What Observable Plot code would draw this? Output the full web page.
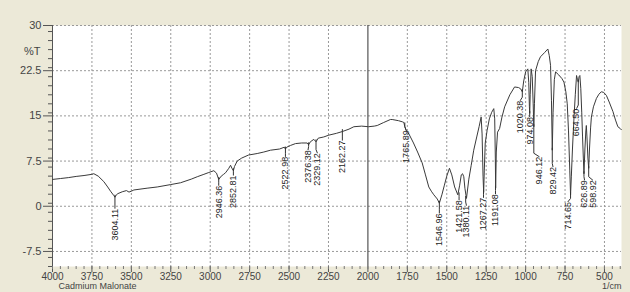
<!DOCTYPE html>
<html><head><meta charset="utf-8">
<script src="https://cdn.jsdelivr.net/npm/d3@7"></script>
<script src="https://cdn.jsdelivr.net/npm/@observablehq/plot@0.6"></script>
<style>
html,body{margin:0;padding:0;background:#ECE9D8;}
#chart{width:630px;height:292px;overflow:hidden;}
</style></head><body><div id="chart"></div>
<script>
// IR spectrum (wavenumber in 1/cm, %T)
const wavenumber = [4000,3950,3900,3850,3800,3750,3738,3710,3675,3650,3632,3612,3604,3595,3585,3558,3531,3515,3500,3484,3400,3336,3250,3188,3120,3082,3040,3009,2977,2960,2946,2930,2915,2903,2882,2871,2862,2853,2846,2829,2800,2757,2702,2660,2618,2560,2530,2523,2515,2490,2459,2420,2385,2376,2365,2343,2329,2315,2280,2248,2200,2162,2120,2089,2040,1996,1960,1941,1900,1857,1846,1806,1780,1772,1766,1755,1740,1711,1685,1656,1635,1614,1598,1582,1560,1547,1530,1515,1500,1483,1468,1450,1430,1418,1408,1400,1392,1385,1375,1360,1345,1329,1310,1295,1282,1276,1270,1266,1262,1256,1244,1230,1215,1202,1196,1192,1190,1186,1178,1165,1150,1133,1100,1070,1045,1032,1021,1012,1000,986,980,976,974,971,965,958,952,948,944,937,920,906,880,859,850,842,836,831,826,818,810,790,770,757,745,736,728,720,715,710,703,694,685,677,671,666,661,656,650,644,639,634,630,624,618,615,611,605,600,595,588,583,570,551,535,520,505,488,470,446,430,415,400,393];
const transmittance = [4.45,4.6,4.75,4.95,5.1,5.3,5.4,5.0,4.1,3.2,2.5,1.8,1.5,1.9,2.1,2.4,2.6,2.35,2.5,2.7,3.0,3.2,3.6,3.9,4.5,4.9,5.3,5.6,5.9,5.5,4.45,5.0,5.3,5.55,6.3,6.8,6.3,5.9,6.6,7.5,8.0,8.5,8.75,9.0,9.3,9.5,9.8,9.5,9.8,10.1,10.4,10.5,10.5,10.2,10.7,11.1,10.7,11.3,11.5,11.8,12.1,12.4,12.8,13.2,13.3,13.2,13.3,13.4,13.9,14.4,14.4,14.2,14.0,13.9,13.2,12.5,12.0,10.5,9.0,7.2,5.2,3.2,2.5,1.9,1.2,0.5,2.0,3.5,5.0,6.3,5.2,3.2,1.9,3.5,5.2,5.4,4.9,3.0,1.3,4.5,6.8,9.3,11.5,13.2,14.8,12.0,5.0,2.3,6.0,10.5,12.6,14.5,15.6,16.2,14.5,8.0,3.0,9.0,12.3,12.9,14.8,16.5,18.5,19.8,19.7,19.5,19.0,20.8,22.3,22.8,20.5,16.5,15.4,18.5,22.8,21.5,17.0,13.2,17.0,22.5,24.0,24.8,25.5,26.1,25.0,23.4,17.5,9.3,15.5,21.0,22.3,21.8,21.2,20.6,19.0,17.0,12.5,6.0,1.9,5.0,9.5,14.3,18.5,21.7,21.0,20.6,21.5,21.7,19.5,15.5,11.5,8.0,5.4,9.5,12.5,13.4,11.5,8.0,6.3,9.5,13.0,14.8,16.5,17.9,18.6,19.0,18.9,18.4,17.3,15.7,14.3,13.2,12.9,12.7];

// Peak annotations
const peakLabels = ["3604.11","2946.36","2852.81","2522.98","2376.38","2329.12","2162.27","1765.89","1546.96","1421.58","1380.11","1267.27","1191.08","1020.38","974.08","946.12","829.42","714.65","664.50","626.89","598.92"];
const peakWn = [3604,2946,2853,2523,2376,2329,2162,1766,1547,1422,1380,1267,1191,1021,974,948,831,715,666,630,600];
const peakT = [1.5,4.45,5.9,9.5,10.2,10.7,12.4,13.5,0.5,1.9,1.3,2.3,3.0,19.0,15.4,13.2,9.3,1.9,20.6,5.4,6.3];
const labelWn = [3604,2946,2853,2523,2380,2320,2162,1758,1547,1422,1375,1267,1191,1035,974,912,826,733,677,626,573];
const labelT = [-0.4,3.4,5.1,8.2,9.3,8.8,10.9,12.6,-1.2,1.0,0.1,1.4,2.0,17.5,14.8,8.2,6.5,0.7,16.2,4.3,4.3];

// Axis ticks
const xTicks = [4000,3750,3500,3250,3000,2750,2500,2250,2000,1750,1500,1250,1000,750,500];
const yTicks = [-7.5,0,7.5,15,22.5,30];
const xMinor = d3.range(4000, 390, -50);
const yMinor = d3.range(-10, 30.01, 1.5).map(v => +v.toFixed(2));

const spectrum = wavenumber.map((w, i) => ({w, t: transmittance[i]}));
const peaks = peakLabels.map((s, i) => ({s, w: peakWn[i], t: peakT[i], lw: labelWn[i], lt: labelT[i]}));

const chart = Plot.plot({
  width: 630, height: 292,
  marginLeft: 52, marginRight: 9, marginTop: 25, marginBottom: 26,
  style: {background: "#ECE9D8", fontFamily: "Arial, 'Liberation Sans', sans-serif", fontSize: "11px", color: "#444"},
  x: {domain: [4000, 392]},
  y: {domain: [-10, 30]},
  marks: [
    Plot.frame({fill: "white", stroke: null}),
    Plot.ruleX(xTicks.filter(d => d !== 4000 && d !== 2000), {stroke: "#999", strokeDasharray: "2,2"}),
    Plot.ruleY(yTicks, {stroke: "#999", strokeDasharray: "2,2"}),
    Plot.ruleX([2000], {stroke: "#333"}),
    Plot.ruleX([4000], {stroke: "#555"}),
    Plot.axisX(xTicks, {anchor: "bottom", tickSize: 6, tickPadding: 0, label: null, fontSize: 10, tickFormat: d => String(d), stroke: "#555"}),
    Plot.axisX(xMinor, {anchor: "bottom", tickSize: 3, label: null, tickFormat: () => "", stroke: "#777"}),
    Plot.axisY(yTicks, {anchor: "left", tickSize: 9, tickPadding: 2, label: null, tickFormat: d => String(d), stroke: "#555"}),
    Plot.axisY(yMinor, {anchor: "left", tickSize: 4, label: null, tickFormat: () => "", stroke: "#555"}),
    Plot.line(spectrum, {x: "w", y: "t", stroke: "#3a3a3a", strokeWidth: 1}),
    Plot.link(peaks, {x1: "w", y1: d => d.t + 0.4, x2: "w", y2: d => d.lt + 0.6, stroke: "#333"}),
    Plot.link(peaks, {x1: "w", y1: d => d.lt + 0.6, x2: "lw", y2: "lt", stroke: "#333"}),
    Plot.text(peaks, {x: "lw", y: "lt", text: "s", rotate: -90, textAnchor: "end", fontSize: 9, fill: "#222"}),
    Plot.text(["%T"], {frameAnchor: "top-left", dx: -12, dy: 22, textAnchor: "end", text: d => d, fill: "#444"}),
    Plot.text(["Cadmium Malonate"], {frameAnchor: "bottom-left", dx: 6, dy: 22.5, textAnchor: "start", fontSize: 9, text: d => d, fill: "#444"}),
    Plot.text(["1/cm"], {frameAnchor: "bottom-right", dx: 0, dy: 22.5, textAnchor: "end", fontSize: 9, text: d => d, fill: "#444"})
  ]
});
document.getElementById("chart").append(chart);
</script></body></html>
